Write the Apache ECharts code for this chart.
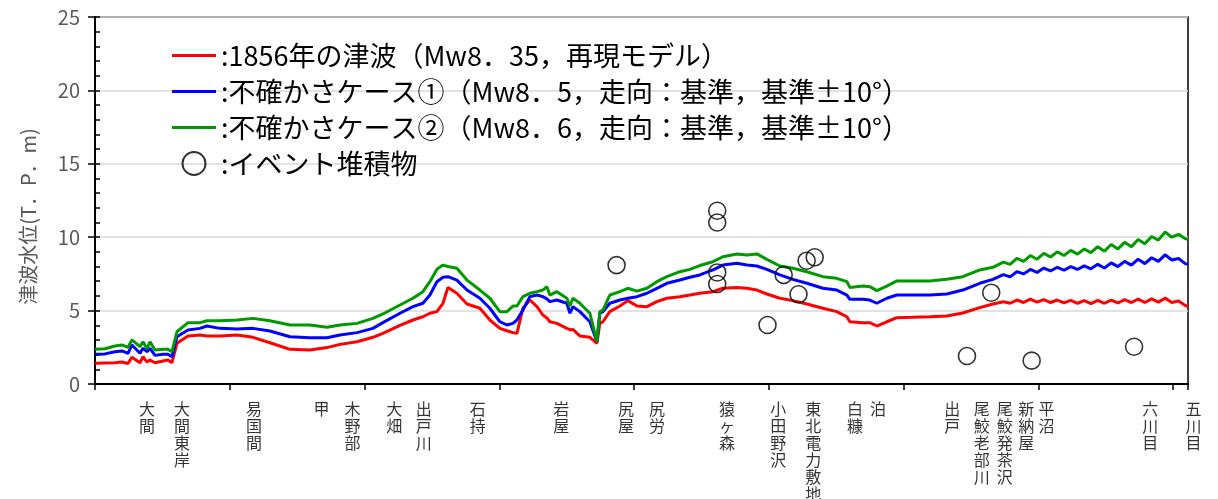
<!DOCTYPE html>
<html><head><meta charset="utf-8">
<script src="https://cdn.jsdelivr.net/npm/echarts@6/dist/echarts.min.js"></script>
<style>html,body{margin:0;padding:0;background:#fff}#c{width:1218px;height:499px}</style>
</head><body><div id="c"></div>
<script>
// distance along coast (km) for the simulated tsunami height profiles
const distanceKm = [0,0.74,1.48,2.0,2.45,2.74,3.34,3.56,3.86,4.08,4.45,5.04,5.42,5.71,6.08,6.9,7.79,8.31,9.27,10.53,11.72,12.98,14.47,15.95,17.21,18.18,19.44,20.62,21.36,22.63,23.59,24.33,24.85,25.37,25.82,26.19,26.85,27.6,28.56,29.3,30.04,30.56,31.01,31.31,31.75,32.27,32.79,33.23,33.53,33.75,34.27,35.01,35.24,35.46,35.98,36.72,37.24,37.46,37.69,38.2,38.95,39.54,40.21,40.95,41.69,42.43,43.4,44.14,44.88,45.85,46.59,47.63,48.37,49.11,49.85,50.82,51.78,52.82,54.01,55.04,55.79,56.01,56.97,57.49,58.01,58.75,59.5,60.68,61.94,63.2,64.39,65.65,66.62,67.4,67.9,68.4,68.9,69.4,69.9,70.4,70.9,71.4,71.9,72.4,72.9,73.4,73.9,74.4,74.9,75.4,75.9,76.4,76.9,77.4,77.9,78.4,78.9,79.4,79.9,80.4,80.9,81.1];
// 1856年の津波（再現モデル）
const caseRepro = [1.41,1.43,1.45,1.50,1.40,1.82,1.45,1.86,1.50,1.63,1.45,1.57,1.63,1.45,2.77,3.27,3.34,3.27,3.27,3.34,3.18,2.81,2.36,2.32,2.48,2.70,2.88,3.18,3.45,4.00,4.36,4.58,4.82,4.93,5.50,6.58,6.18,5.45,5.16,4.36,3.79,3.63,3.50,3.45,5.16,5.72,5.27,4.70,4.50,4.24,4.13,3.79,3.70,3.72,3.27,3.18,2.77,4.13,4.24,4.93,5.31,5.68,5.31,5.27,5.61,5.84,5.95,6.06,6.18,6.29,6.52,6.58,6.52,6.40,6.13,5.84,5.68,5.45,5.16,4.93,4.58,4.24,4.18,4.18,3.95,4.24,4.52,4.54,4.58,4.63,4.84,5.20,5.45,5.60,5.50,5.72,5.55,5.78,5.58,5.75,5.55,5.72,5.52,5.70,5.50,5.68,5.48,5.70,5.50,5.72,5.52,5.75,5.55,5.78,5.55,5.80,5.58,5.85,5.55,5.65,5.35,5.28];
// 不確かさケース①
const caseUnc1 = [2.02,2.05,2.20,2.25,2.09,2.66,2.09,2.43,2.20,2.43,1.95,2.02,2.02,1.86,3.22,3.68,3.79,3.95,3.79,3.75,3.79,3.61,3.22,3.15,3.15,3.34,3.50,3.79,4.18,4.82,5.27,5.50,6.06,6.97,7.27,7.31,7.08,6.40,5.84,5.16,4.24,4.02,4.13,4.36,5.04,5.95,6.06,5.95,5.80,5.61,5.72,5.50,4.82,5.27,4.93,4.24,2.88,4.82,4.93,5.50,5.72,5.84,5.95,6.18,6.52,6.86,7.08,7.27,7.43,7.77,8.10,8.22,8.10,8.04,7.81,7.43,7.13,6.86,6.52,6.40,6.06,5.77,5.77,5.72,5.50,5.84,6.06,6.06,6.06,6.13,6.40,6.86,7.13,7.45,7.30,7.65,7.50,7.80,7.60,7.90,7.70,7.95,7.75,8.00,7.80,8.05,7.85,8.15,7.90,8.25,8.00,8.35,8.10,8.50,8.20,8.60,8.35,8.80,8.45,8.55,8.20,8.15];
// 不確かさケース②
const caseUnc2 = [2.36,2.40,2.59,2.66,2.50,3.00,2.54,2.88,2.40,2.88,2.32,2.36,2.36,2.20,3.56,4.18,4.18,4.31,4.31,4.36,4.47,4.31,4.02,4.02,3.86,4.02,4.13,4.47,4.77,5.38,5.84,6.29,6.97,7.81,8.10,8.00,7.88,7.08,6.40,5.84,4.93,4.93,5.31,5.31,5.95,6.18,6.29,6.40,6.63,6.06,6.29,5.84,5.31,5.84,5.50,4.82,2.88,4.93,5.04,6.06,6.29,6.52,6.33,6.52,6.97,7.31,7.65,7.81,8.07,8.33,8.67,8.86,8.79,8.86,8.49,8.04,7.88,7.65,7.31,7.20,6.97,6.58,6.67,6.63,6.36,6.67,7.02,7.02,7.02,7.13,7.31,7.77,7.95,8.30,8.15,8.55,8.35,8.75,8.50,8.90,8.65,9.00,8.75,9.10,8.85,9.20,8.95,9.35,9.05,9.50,9.20,9.65,9.35,9.85,9.55,10.05,9.80,10.35,10.00,10.20,9.90,9.85];
// イベント堆積物
const eventKm = [38.7,46.17,46.17,46.17,46.17,49.9,51.1,52.2,52.8,53.4,64.7,66.5,69.5,77.1];
const eventLevel = [8.1,11.8,11.0,7.6,6.81,4.02,7.43,6.11,8.4,8.63,1.91,6.22,1.59,2.54];
// place names along the coast
const placeNames = ['大間','大間東岸','易国間','甲','木野部','大畑','出戸川','石持','岩屋','尻屋','尻労','猿ヶ森','小田野沢','東北電力敷地','白糠','泊','出戸','尾鮫老部川','尾鮫発茶沢','新納屋','平沼','六川目','五川目'];
const placeKm = [3.86,6.45,11.8,16.8,19.1,22.2,24.4,28.4,34.6,39.4,41.7,46.9,50.7,53.3,56.4,58.1,63.6,65.8,67.5,69.1,70.6,78.3,81.5];
const seriesNames = ['1856年の津波（Mw8．35，再現モデル）','不確かさケース①（Mw8．5，走向：基準，基準±10°）','不確かさケース②（Mw8．6，走向：基準，基準±10°）','イベント堆積物'];
const yAxisName = '津波水位(T．P．m)';

const FONT = '"Noto Sans CJK JP", "Noto Sans", sans-serif';
const zip = (xs, ys) => xs.map((x, i) => [x, ys[i]]);
const LINE_ICON = 'path://M0,0H44V3H0Z';

const chart = echarts.init(document.getElementById('c'), null, {renderer: 'canvas'});
const lineSeries = (name, data, color) => ({
  name, type: 'line', data: zip(distanceKm, data), xAxisIndex: 0, yAxisIndex: 0,
  symbol: 'none', smooth: false, lineStyle: {color, width: 3}, itemStyle: {color}, z: 3
});
chart.setOption({
  animation: false,
  backgroundColor: '#fff',
  grid: {left: 95, right: 30, top: 17, bottom: 115, show: true, borderColor: '#000', borderWidth: 1.5, backgroundColor: 'transparent'},
  legend: {
    data: [
      {name: seriesNames[0], icon: LINE_ICON},
      {name: seriesNames[1], icon: LINE_ICON},
      {name: seriesNames[2], icon: LINE_ICON},
      {name: seriesNames[3]}
    ],
    orient: 'vertical', left: 167, top: 37, itemWidth: 44, itemHeight: 23, itemGap: 9,
    formatter: n => ':' + n,
    textStyle: {fontFamily: FONT, fontSize: 27, color: '#000'}
  },
  xAxis: [{
    type: 'value', min: 0, max: 81.1, interval: 10,
    axisLine: {show: true, lineStyle: {color: '#000', width: 2}},
    axisTick: {show: true, inside: false, length: 6, lineStyle: {color: '#000', width: 1.5}},
    axisLabel: {show: false}, splitLine: {show: false}
  }],
  yAxis: [{
    type: 'value', min: 0, max: 25, interval: 5,
    name: yAxisName, nameLocation: 'middle', nameGap: 57, nameRotate: 90,
    nameTextStyle: {fontFamily: FONT, fontSize: 20, color: '#595959', padding: [0, 32, 0, 0]},
    axisLine: {show: true, lineStyle: {color: '#000', width: 2}},
    axisTick: {show: true, inside: false, length: 7, lineStyle: {color: '#000', width: 1.5}},
    axisLabel: {fontFamily: FONT, fontSize: 20, color: '#595959', margin: 15},
    splitLine: {show: true, lineStyle: {color: '#d9d9d9', width: 1.5}}
  }, {
    type: 'value', min: 0, max: 25, interval: 1, position: 'left', offset: 0,
    axisLine: {show: false},
    axisTick: {show: true, inside: true, length: 5, lineStyle: {color: '#000', width: 1.5}},
    axisLabel: {show: false}, splitLine: {show: false}
  }],
  series: [
    lineSeries(seriesNames[0], caseRepro, '#ff0000'),
    lineSeries(seriesNames[1], caseUnc1, '#0000ff'),
    lineSeries(seriesNames[2], caseUnc2, '#009a00'),
    {
      name: seriesNames[3], type: 'scatter', data: zip(eventKm, eventLevel), xAxisIndex: 0, yAxisIndex: 0,
      symbol: 'circle', symbolSize: 17, z: 4,
      itemStyle: {color: 'rgba(255,255,255,0)', borderColor: '#000', borderWidth: 1.6}
    },
    {
      name: '地名', type: 'scatter', silent: true, clip: false, symbolSize: 0, xAxisIndex: 0, yAxisIndex: 0,
      data: placeKm.map((k, i) => ({value: [k, 0], name: placeNames[i]})),
      label: {
        show: true, position: 'bottom', distance: 16,
        formatter: p => p.name.split('').join('\n'),
        fontFamily: FONT, fontSize: 16, lineHeight: 17, color: '#000'
      }
    }
  ]
});
</script></body></html>
